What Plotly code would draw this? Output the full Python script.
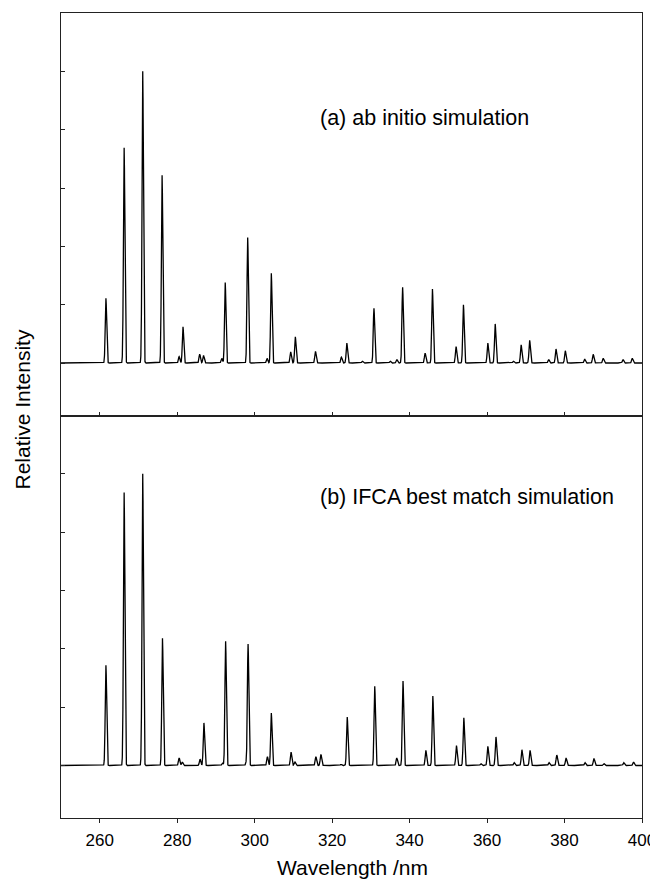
import numpy as np
import plotly.graph_objects as go

# ---- data ----
# (a) ab initio simulation: line positions (nm) and relative intensities
a_pos = [261.6, 266.3, 271.1, 276.1, 280.5, 281.5, 285.8, 286.8, 291.5, 292.4,
         298.2, 303.2, 304.3, 309.3, 310.5, 315.7, 322.4, 323.8, 327.8, 330.8,
         335.0, 336.7, 338.2, 344.0, 345.9, 352.0, 353.9, 360.2, 362.1, 366.8,
         368.8, 371.0, 375.9, 377.8, 380.2, 385.2, 387.4, 390.0, 395.1, 397.5]
a_int = [1.11, 3.69, 5.00, 3.22, 0.11, 0.62, 0.15, 0.13, 0.08, 1.38,
         2.15, 0.08, 1.54, 0.19, 0.45, 0.20, 0.10, 0.34, 0.03, 0.94,
         0.03, 0.06, 1.30, 0.17, 1.27, 0.28, 1.00, 0.34, 0.67, 0.03,
         0.31, 0.39, 0.06, 0.24, 0.21, 0.07, 0.15, 0.08, 0.06, 0.08]

# (b) IFCA best match simulation
b_pos = [261.6, 266.3, 271.1, 276.2, 280.5, 281.3, 285.9, 286.9, 291.7, 292.5,
         297.8, 298.3, 303.3, 304.3, 309.4, 310.4, 315.8, 317.1, 322.3, 323.9,
         331.0, 336.7, 338.3, 344.2, 346.0, 352.1, 354.0, 358.4, 360.2, 362.3,
         367.0, 369.0, 371.1, 376.0, 378.0, 380.4, 385.3, 387.6, 390.2, 395.3, 397.8]
b_int = [1.72, 4.68, 5.00, 2.18, 0.13, 0.06, 0.11, 0.73, 0.04, 2.13,
         0.04, 2.08, 0.15, 0.90, 0.23, 0.06, 0.15, 0.19, 0.02, 0.83,
         1.36, 0.13, 1.45, 0.26, 1.19, 0.34, 0.82, 0.03, 0.33, 0.49,
         0.05, 0.27, 0.26, 0.05, 0.18, 0.13, 0.05, 0.12, 0.03, 0.05, 0.06]

x_ticks = [260, 280, 300, 320, 340, 360, 380, 400]
labels = ["(a) ab initio simulation", "(b) IFCA best match simulation"]

# ---- build line spectra (narrow line shape for each read line) ----
wl = np.arange(250.0, 400.0001, 0.02)
sigma = 0.18


def spectrum(pos, inten):
    y = np.zeros_like(wl)
    for p, h in zip(pos, inten):
        y += h * np.exp(-0.5 * ((wl - p) / sigma) ** 2)
    return y


FONT = "Arial, 'Liberation Sans', sans-serif"
fig = go.Figure()
fig.add_trace(go.Scatter(x=wl, y=spectrum(a_pos, a_int), mode="lines",
                         line=dict(color="black", width=1.3),
                         xaxis="x2", yaxis="y2", showlegend=False, hoverinfo="skip"))
fig.add_trace(go.Scatter(x=wl, y=spectrum(b_pos, b_int), mode="lines",
                         line=dict(color="black", width=1.3),
                         xaxis="x", yaxis="y", showlegend=False, hoverinfo="skip"))

axis_common = dict(showline=True, linecolor="#222", linewidth=1, mirror=True,
                   showgrid=False, zeroline=False)

fig.update_layout(
    width=658, height=884,
    margin=dict(l=53, r=24, t=5, b=74),
    paper_bgcolor="white", plot_bgcolor="white",
    font=dict(family=FONT, color="black"),
    xaxis=dict(range=[250, 400], tickvals=x_ticks, ticks="outside", ticklen=4,
               tickcolor="#222", tickfont=dict(size=17), anchor="y",
               ticklabelstandoff=3, **axis_common),
    yaxis=dict(domain=[0, 0.5], range=[-0.9, 6], tickvals=[0, 1, 2, 3, 4, 5, 6],
               ticks="inside", ticklen=4, tickcolor="#222", showticklabels=False,
               anchor="x", **axis_common),
    xaxis2=dict(range=[250, 400], tickvals=x_ticks, ticks="inside", ticklen=4,
                tickcolor="#222", showticklabels=False, anchor="y2", **axis_common),
    yaxis2=dict(domain=[0.5, 1], range=[-0.9, 6], tickvals=[0, 1, 2, 3, 4, 5, 6],
                ticks="inside", ticklen=4, tickcolor="#222", showticklabels=False,
                anchor="x2", **axis_common),
)

fig.add_annotation(text=labels[0], xref="x2", yref="y2", x=316.4, y=4.2,
                   xanchor="left", yanchor="middle", showarrow=False,
                   font=dict(size=21.5, family=FONT))
fig.add_annotation(text=labels[1], xref="x", yref="y", x=316.4, y=4.6,
                   xanchor="left", yanchor="middle", showarrow=False,
                   font=dict(size=21.5, family=FONT))
fig.add_annotation(text="Relative Intensity", xref="paper", yref="paper",
                   x=-0.066, y=0.507, textangle=-90, xanchor="center", yanchor="middle",
                   showarrow=False, font=dict(size=21, family=FONT))
fig.add_annotation(text="Wavelength /nm", xref="paper", yref="paper",
                   x=0.501, y=-0.062, xanchor="center", yanchor="middle",
                   showarrow=False, font=dict(size=21, family=FONT))

fig.write_html("out.html")
